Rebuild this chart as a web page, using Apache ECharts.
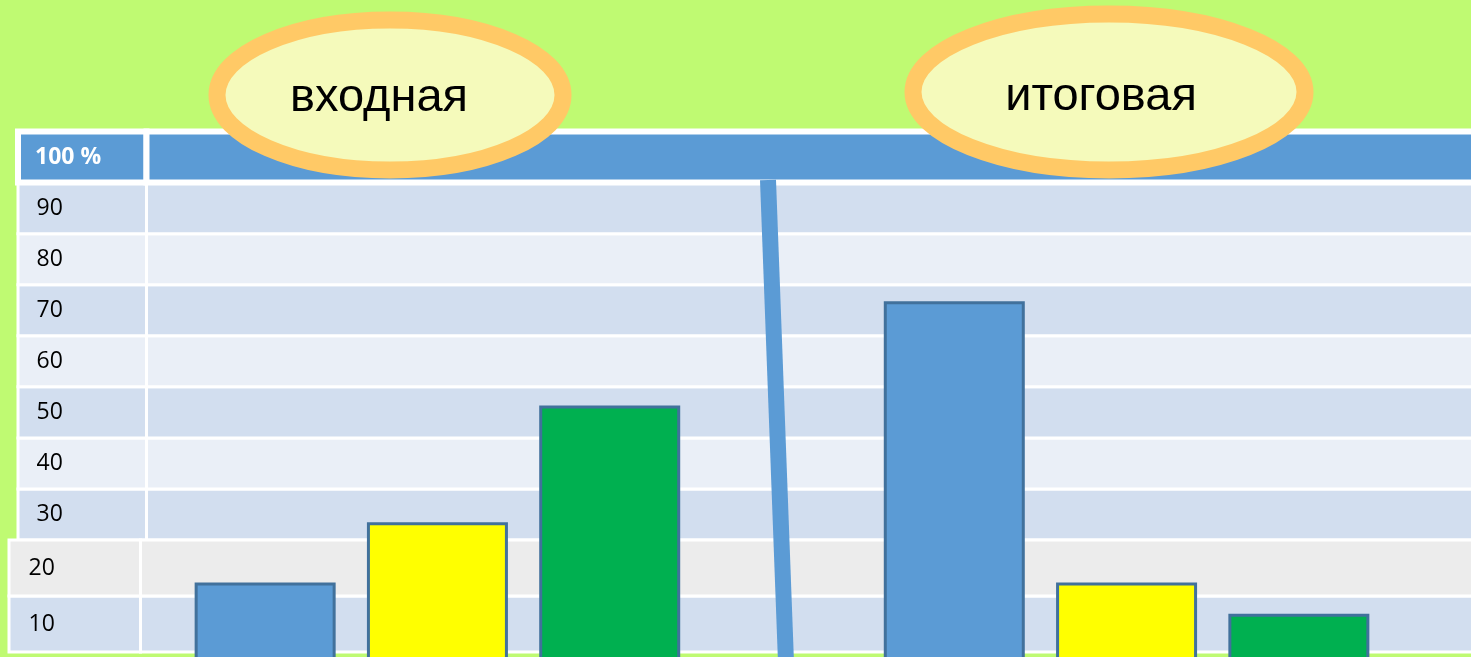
<!DOCTYPE html>
<html>
<head>
<meta charset="utf-8">
<title>входная / итоговая</title>
<script src="https://cdn.jsdelivr.net/npm/echarts@6/dist/echarts.min.js"></script>
<style>
  html, body { margin: 0; padding: 0; background: #bffa72; }
  #chart { width: 1471px; height: 657px; }
</style>
</head>
<body>
<div id="chart"></div>
<script>
// подписи строк таблицы (сверху вниз)
const topRows = ['100 %', '90', '80', '70', '60', '50', '40', '30'];
const bottomRows = ['20', '10'];

// столбики: входная (3 шт.), пустое место под разделитель, итоговая (3 шт.)
const categories = ['входная 1', 'входная 2', 'входная 3', '', 'итоговая 1', 'итоговая 2', 'итоговая 3'];
const values = [14.8, 26.2, 48.2, null, 67.9, 14.8, 8.9];

const titles = ['входная', 'итоговая'];

// стили
const barColors = ['#5b9bd5', '#ffff00', '#00b050', null, '#5b9bd5', '#ffff00', '#00b050'];
const rowFill = {
  '100 %': '#5b9bd5', '90': '#d2deef', '80': '#eaeff7', '70': '#d2deef', '60': '#eaeff7',
  '50': '#d2deef', '40': '#eaeff7', '30': '#d2deef', '20': '#ececec', '10': '#d2deef'
};
const fontFamily = '"Open Sans", "Noto Sans", sans-serif';

const chart = echarts.init(document.getElementById('chart'));

// одна строка таблицы как markArea
function rowArea(label, withText) {
  const v = parseInt(label, 10);
  const isHead = label === '100 %';
  return [
    {
      name: withText ? label : '',
      yAxis: v - 10,
      itemStyle: {
        color: rowFill[label],
        borderColor: '#ffffff',
        borderWidth: isHead ? 6 : 3
      },
      label: {
        show: withText,
        position: 'insideLeft',
        distance: v <= 20 ? 21 : 20,
        color: isHead ? '#ffffff' : '#000000',
        fontWeight: isHead ? 'bold' : 'normal',
        fontSize: isHead ? 23 : 23,
        fontFamily: fontFamily
      }
    },
    { yAxis: v }
  ];
}

// шапку рисуем последней, чтобы белая полоса под ней была сверху
function areas(rows, withText) {
  return rows.slice().reverse().map(function (r) { return rowArea(r, withText); });
}

function tableSeries(idx, rows, withText) {
  return {
    type: 'line',
    xAxisIndex: idx,
    yAxisIndex: idx,
    data: [],
    silent: true,
    markArea: { silent: true, data: areas(rows, withText) }
  };
}

const tableGrids = [
  { left: 18, width: 128.5, top: 131.5, height: 408.5 },
  { left: 146.5, right: -3, top: 131.5, height: 408.5 },
  { left: 9, width: 131.5, top: 540, height: 112 },
  { left: 140.5, right: -3, top: 540, height: 112 }
].map(function (g) { return Object.assign({ outerBoundsMode: 'none' }, g); });

const option = {
  backgroundColor: '#bffa72',
  animation: false,
  grid: tableGrids.concat([{ left: 179, right: 86, top: 131, bottom: -4, outerBoundsMode: 'none' }]),
  xAxis: [
    { gridIndex: 0, type: 'value', min: 0, max: 1, show: false },
    { gridIndex: 1, type: 'value', min: 0, max: 1, show: false },
    { gridIndex: 2, type: 'value', min: 0, max: 1, show: false },
    { gridIndex: 3, type: 'value', min: 0, max: 1, show: false },
    { gridIndex: 4, type: 'category', data: categories, show: false }
  ],
  yAxis: [
    { gridIndex: 0, type: 'value', min: 20, max: 100, show: false },
    { gridIndex: 1, type: 'value', min: 20, max: 100, show: false },
    { gridIndex: 2, type: 'value', min: 0, max: 20, show: false },
    { gridIndex: 3, type: 'value', min: 0, max: 20, show: false },
    { gridIndex: 4, type: 'value', min: 0, max: 100, show: false }
  ],
  series: [
    tableSeries(0, topRows, true),
    tableSeries(1, topRows, false),
    tableSeries(2, bottomRows, true),
    tableSeries(3, bottomRows, false),
    {
      type: 'bar',
      xAxisIndex: 4,
      yAxisIndex: 4,
      barWidth: 141,
      z: 5,
      data: values.map(function (v, i) {
        return v == null ? '-' : {
          value: v,
          itemStyle: { color: barColors[i], borderColor: '#41719c', borderWidth: 3 }
        };
      })
    }
  ],
  graphic: [
    // разделитель
    {
      type: 'line',
      z: 10,
      shape: { x1: 768, y1: 180, x2: 786, y2: 662 },
      style: { stroke: '#5b9bd5', lineWidth: 16 }
    },
    {
      type: 'ellipse',
      z: 20,
      shape: { cx: 390, cy: 95, rx: 173, ry: 75 },
      style: { fill: '#f5fabb', stroke: '#ffc966', lineWidth: 17 }
    },
    {
      type: 'text',
      z: 21,
      x: 379,
      y: 98,
      style: {
        text: titles[0],
        font: '47px "Liberation Sans", Arial, sans-serif',
        fill: '#000000',
        align: 'center',
        verticalAlign: 'middle'
      }
    },
    {
      type: 'ellipse',
      z: 20,
      shape: { cx: 1109, cy: 92, rx: 196, ry: 78 },
      style: { fill: '#f5fabb', stroke: '#ffc966', lineWidth: 17 }
    },
    {
      type: 'text',
      z: 21,
      x: 1101,
      y: 97,
      style: {
        text: titles[1],
        font: '47px "Liberation Sans", Arial, sans-serif',
        fill: '#000000',
        align: 'center',
        verticalAlign: 'middle'
      }
    }
  ]
};

chart.setOption(option);
</script>
</body>
</html>
